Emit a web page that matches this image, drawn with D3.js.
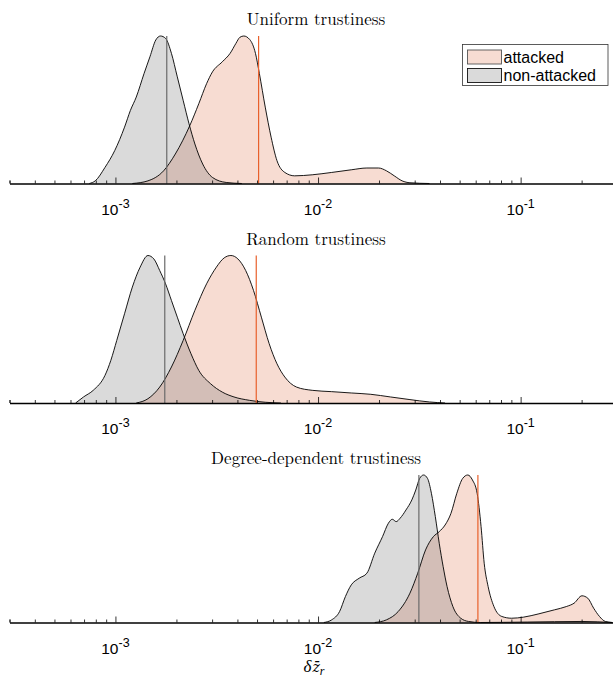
<!DOCTYPE html>
<html>
<head>
<meta charset="utf-8">
<script src="https://cdn.jsdelivr.net/npm/d3@7"></script>
<style>
  html, body { margin: 0; padding: 0; background: #fff; }
  svg { display: block; }
</style>
</head>
<body>
<svg id="chart" width="613" height="677"></svg>
<script>
// ---------------- data ----------------
const panelTitles = ["Uniform trustiness", "Random trustiness", "Degree-dependent trustiness"];
const seriesNames = ["attacked", "non-attacked"];
const majorTicks = [1e-3, 1e-2, 1e-1];
const majorTickExponents = ["-3", "-2", "-1"];
const xDomain = [3e-4, 0.3];

// Panel 1: Uniform trustiness
const p1AttackedX = [1.212e-3,1.447e-3,1.729e-3,1.975e-3,2.329e-3,2.579e-3,2.818e-3,3.013e-3,3.368e-3,3.680e-3,3.933e-3,4.112e-3,4.300e-3,4.595e-3,4.912e-3,5.135e-3,5.488e-3,5.867e-3,6.270e-3,6.855e-3,7.659e-3,9.357e-3,1.168e-2,1.459e-2,1.742e-2,1.991e-2,2.176e-2,2.378e-2,2.600e-2,2.842e-2,3.547e-2];
const p1AttackedY = [0,0.018,0.086,0.200,0.393,0.541,0.677,0.757,0.825,0.882,0.950,0.991,1.000,0.977,0.882,0.745,0.518,0.314,0.155,0.075,0.052,0.059,0.075,0.093,0.105,0.105,0.086,0.052,0.018,0.005,0];
const p1NonAttackedX = [7.43e-4,7.95e-4,8.88e-4,9.92e-4,1.109e-3,1.185e-3,1.267e-3,1.384e-3,1.480e-3,1.582e-3,1.669e-3,1.768e-3,1.890e-3,2.020e-3,2.159e-3,2.308e-3,2.467e-3,2.696e-3,3.013e-3,3.521e-3,4.205e-3];
const p1NonAttackedY = [0,0.018,0.109,0.223,0.382,0.495,0.586,0.745,0.859,0.973,1.000,0.984,0.882,0.723,0.564,0.405,0.268,0.132,0.041,0.007,0];
const p1Means = [5.089e-3, 1.792e-3]; // attacked, non-attacked

// Panel 2: Random trustiness
const p2AttackedX = [1.267e-3,1.447e-3,1.654e-3,1.890e-3,2.159e-3,2.467e-3,2.818e-3,3.150e-3,3.442e-3,3.713e-3,4.021e-3,4.395e-3,4.804e-3,5.252e-3,5.739e-3,6.270e-3,6.855e-3,7.832e-3,9.357e-3,1.168e-2,1.459e-2,1.822e-2,2.275e-2,2.842e-2,3.547e-2,4.237e-2];
const p2AttackedY = [0,0.029,0.108,0.244,0.424,0.628,0.808,0.921,0.984,1.000,0.977,0.898,0.763,0.582,0.402,0.266,0.176,0.108,0.086,0.077,0.068,0.059,0.041,0.023,0.007,0];
const p2NonAttackedX = [6.36e-4,6.96e-4,7.77e-4,8.88e-4,9.49e-4,1.015e-3,1.109e-3,1.212e-3,1.324e-3,1.447e-3,1.547e-3,1.654e-3,1.768e-3,1.890e-3,2.020e-3,2.159e-3,2.360e-3,2.579e-3,2.947e-3,3.368e-3,3.847e-3,4.595e-3,5.488e-3,6.556e-3];
const p2NonAttackedY = [0,0.041,0.086,0.187,0.289,0.424,0.605,0.786,0.921,1.000,0.977,0.898,0.808,0.695,0.582,0.470,0.334,0.221,0.131,0.074,0.041,0.018,0.005,0];
const p2Means = [4.955e-3, 1.752e-3];

// Panel 3: Degree-dependent trustiness
const p3AttackedX = [1.905e-2,2.176e-2,2.486e-2,2.842e-2,3.105e-2,3.394e-2,3.709e-2,3.965e-2,4.237e-2,4.530e-2,4.842e-2,5.176e-2,5.484e-2,5.783e-2,6.100e-2,6.379e-2,6.609e-2,6.910e-2,7.384e-2,8.069e-2,9.020e-2,0.1030,0.1231,0.1470,0.1680,0.1836,0.2007,0.2145,0.2293,0.2450,0.2619,0.2838];
const p3AttackedY = [0,0.018,0.074,0.199,0.334,0.492,0.582,0.616,0.661,0.740,0.876,0.977,1.000,0.966,0.876,0.650,0.402,0.244,0.108,0.041,0.029,0.036,0.059,0.086,0.108,0.131,0.181,0.165,0.097,0.041,0.007,0];
const p3NonAttackedX = [1.069e-2,1.168e-2,1.277e-2,1.365e-2,1.459e-2,1.595e-2,1.742e-2,1.905e-2,2.081e-2,2.225e-2,2.325e-2,2.431e-2,2.542e-2,2.717e-2,2.904e-2,3.036e-2,3.174e-2,3.319e-2,3.470e-2,3.627e-2,3.792e-2,3.965e-2,4.145e-2,4.334e-2,4.631e-2,5.062e-2,5.533e-2,6.322e-2,0.1077,0.2007,0.2838];
const p3NonAttackedY = [0,0.018,0.074,0.176,0.255,0.300,0.334,0.470,0.582,0.673,0.700,0.684,0.707,0.763,0.831,0.898,0.977,1.000,0.977,0.876,0.718,0.537,0.379,0.244,0.108,0.029,0.007,0,0.003,0.007,0];
const p3Means = [6.153e-2, 3.146e-2];

// ---------------- build panels ----------------
const panels = [
  { title: panelTitles[0], att: [p1AttackedX, p1AttackedY], non: [p1NonAttackedX, p1NonAttackedY], means: p1Means },
  { title: panelTitles[1], att: [p2AttackedX, p2AttackedY], non: [p2NonAttackedX, p2NonAttackedY], means: p2Means },
  { title: panelTitles[2], att: [p3AttackedX, p3AttackedY], non: [p3NonAttackedX, p3NonAttackedY], means: p3Means }
];

const COL_ATT_FILL = "#f7dcd2";
const COL_NON_FILL = "rgba(87,87,87,0.22)";
const COL_ATT_LINE = "#e8602c";
const COL_NON_LINE = "#6a6a6a";

const svg = d3.select("#chart");
const x = d3.scaleLog().domain(xDomain).range([9.5, 617.3]);

const axisY0 = 183.5, panelStep = 219.5, panelH = 147.5;

// minor ticks
const minorTicks = [];
[1e-4, 1e-3, 1e-2, 1e-1].forEach(dec => {
  for (let k = 2; k <= 9; k++) {
    const v = k * dec;
    if (v >= xDomain[0] - 1e-12 && v <= xDomain[1] + 1e-12) minorTicks.push(v);
  }
});

panels.forEach((p, i) => {
  const base = axisY0 + i * panelStep;
  const y = d3.scaleLinear().domain([0, 1]).range([base, base - panelH]);
  const g = svg.append("g");

  const toPts = (arr) => arr[0].map((v, j) => [v, arr[1][j]]);
  const area = d3.area().x(d => x(d[0])).y0(y(0)).y1(d => y(d[1])).curve(d3.curveMonotoneX);
  const line = d3.line().x(d => x(d[0])).y(d => y(d[1])).curve(d3.curveMonotoneX);

  const att = toPts(p.att), non = toPts(p.non);

  g.append("path").datum(att).attr("d", area).attr("fill", COL_ATT_FILL);
  g.append("path").datum(non).attr("d", area).attr("fill", COL_NON_FILL);
  g.append("path").datum(att).attr("d", line).attr("fill", "none").attr("stroke", "#000").attr("stroke-width", 0.9);
  g.append("path").datum(non).attr("d", line).attr("fill", "none").attr("stroke", "#000").attr("stroke-width", 0.9);

  // mean lines
  g.append("line").attr("x1", x(p.means[1])).attr("x2", x(p.means[1]))
    .attr("y1", y(0)).attr("y2", y(1)).attr("stroke", COL_NON_LINE).attr("stroke-width", 1.2);
  g.append("line").attr("x1", x(p.means[0])).attr("x2", x(p.means[0]))
    .attr("y1", y(0)).attr("y2", y(1)).attr("stroke", COL_ATT_LINE).attr("stroke-width", 1.2);

  // axes: minor and major ticks pointing up
  const minorAxis = d3.axisBottom(x).tickValues(minorTicks.concat([xDomain[0]])).tickSizeInner(-3).tickSizeOuter(0).tickFormat("");
  const majorAxis = d3.axisBottom(x).tickValues(majorTicks).tickSizeInner(-6).tickSizeOuter(0).tickFormat("");
  const ga = g.append("g").attr("transform", `translate(0,${base})`);
  ga.call(minorAxis);
  ga.select(".domain").attr("stroke", "#000").attr("stroke-width", 1.7);
  ga.selectAll(".tick line").attr("stroke", "#000").attr("stroke-width", 0.8);
  const gb = g.append("g").attr("transform", `translate(0,${base})`);
  gb.call(majorAxis);
  gb.select(".domain").remove();
  gb.selectAll(".tick line").attr("stroke", "#000").attr("stroke-width", 0.8);

  // tick labels 10^k
  majorTicks.forEach((v, k) => {
    const t = g.append("text").attr("x", x(v)).attr("y", base + 31)
      .attr("text-anchor", "middle")
      .attr("font-family", "Liberation Sans, Arial, sans-serif").attr("font-size", 15.5).attr("fill", "#000");
    t.append("tspan").text("10");
    t.append("tspan").attr("dy", -7).attr("font-size", 12.5).text(majorTickExponents[k]);
  });

  // title
  g.append("text").attr("x", 316).attr("y", base - panelH - 11)
    .attr("text-anchor", "middle")
    .attr("font-family", "Latin Modern Roman, CMU Serif, Liberation Serif, serif")
    .attr("font-size", 17).attr("fill", "#000").text(p.title);
});

// legend
const lg = svg.append("g");
lg.append("rect").attr("x", 462.5).attr("y", 44.5).attr("width", 145.5).attr("height", 41)
  .attr("fill", "#fff").attr("stroke", "#333").attr("stroke-width", 0.8);
const legendFills = [COL_ATT_FILL, "#dadada"];
const legendStrokes = ["#555", "#111"];
seriesNames.forEach((name, k) => {
  const yy = 50 + k * 18.5;
  lg.append("rect").attr("x", 467.5).attr("y", yy).attr("width", 34).attr("height", 14)
    .attr("fill", legendFills[k]).attr("stroke", legendStrokes[k]).attr("stroke-width", 0.9);
  lg.append("text").attr("x", 503.5).attr("y", yy + 12.5)
    .attr("font-family", "Liberation Sans, Arial, sans-serif").attr("font-size", 16).attr("fill", "#000")
    .text(name);
});

// x label
const xl = svg.append("text").attr("x", 314).attr("y", 672).attr("text-anchor", "middle")
  .attr("font-family", "Liberation Serif, serif")
  .attr("font-style", "italic").attr("font-size", 17).attr("fill", "#000");
xl.append("tspan").text("δ");
xl.append("tspan").attr("dx", 1).attr("font-family", "DejaVu Serif, serif").attr("font-size", 14).text("z\u0304");
xl.append("tspan").attr("dy", 3).attr("font-size", 12).text("r");
</script>
</body>
</html>
